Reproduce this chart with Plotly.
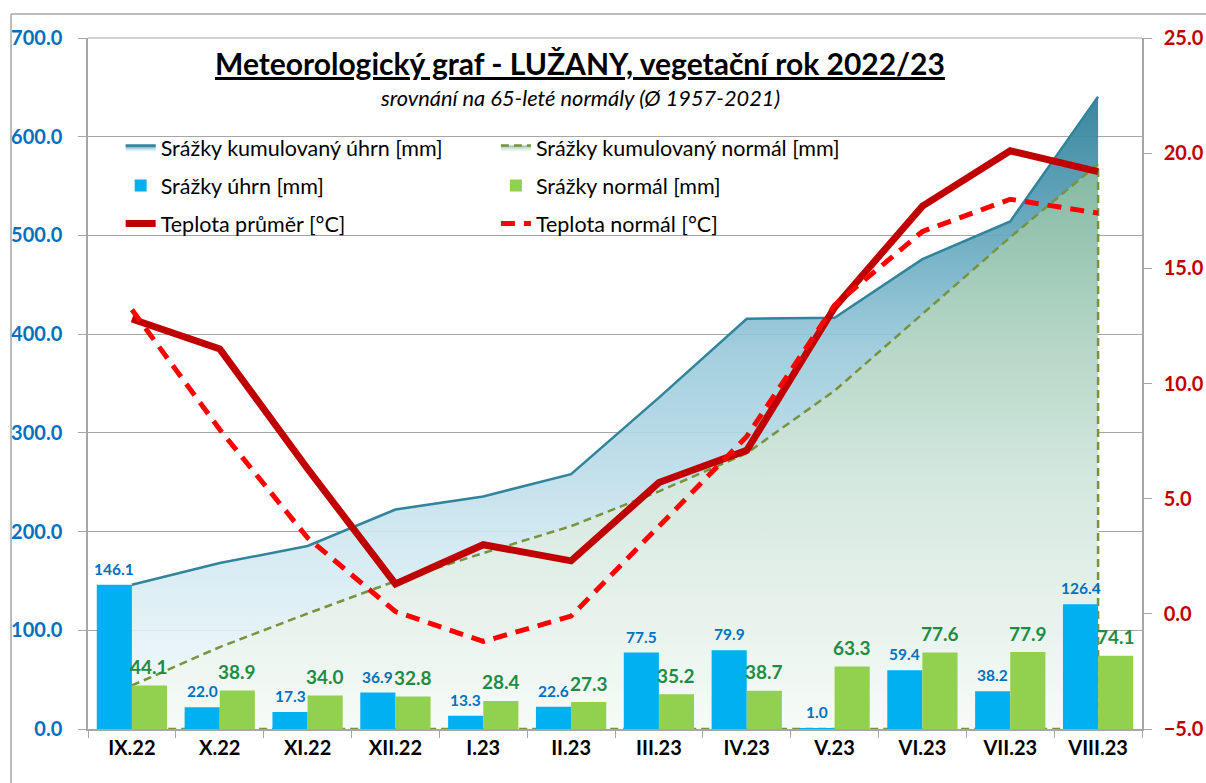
import plotly.graph_objects as go

months = ["IX.22", "X.22", "XI.22", "XII.22", "I.23", "II.23", "III.23",
          "IV.23", "V.23", "VI.23", "VII.23", "VIII.23"]
precip = [146.1, 22.0, 17.3, 36.9, 13.3, 22.6, 77.5, 79.9, 1.0, 59.4, 38.2, 126.4]
precip_norm = [44.1, 38.9, 34.0, 32.8, 28.4, 27.3, 35.2, 38.7, 63.3, 77.6, 77.9, 74.1]
precip_cum = [146.1, 168.1, 185.4, 222.3, 235.6, 258.2, 335.7, 415.6, 416.6, 476.0, 514.2, 640.6]
precip_cum_norm = [44.1, 83.0, 117.0, 149.8, 178.2, 205.5, 240.7, 279.4, 342.7, 420.3, 498.2, 572.3]
temp = [12.8, 11.5, 6.3, 1.3, 3.0, 2.3, 5.7, 7.1, 13.3, 17.7, 20.1, 19.2]
temp_norm = [13.2, 8.0, 3.3, 0.1, -1.2, -0.1, 3.8, 7.7, 13.4, 16.6, 18.0, 17.4]

FONT = "Lato"
GRID = "#A6A6A6"

fig = go.Figure()

# cumulative precipitation area
fig.add_trace(go.Scatter(
    x=months, y=precip_cum, name="Srážky kumulovaný úhrn [mm]",
    mode="lines", fill="tozeroy",
    line=dict(color="#31849B", width=2.5),
    fillgradient=dict(type="vertical", start=0, stop=640.6,
                      colorscale=[[0, "rgba(246,251,253,0.9)"], [0.3, "rgba(207,231,240,0.9)"],
                                  [0.6, "rgba(152,201,218,0.9)"], [0.8, "rgba(93,163,186,0.92)"],
                                  [1, "rgba(47,128,153,0.95)"]]),
    legend="legend", legendgroup="a", yaxis="y",
))
# cumulative normal area (closed polygon with dashed outline)
fig.add_trace(go.Scatter(
    x=months + [months[-1], months[0]], y=precip_cum_norm + [0, 0],
    name="Srážky kumulovaný normál [mm]",
    mode="lines", fill="toself",
    line=dict(color="#77933C", width=2.5, dash="8px,5px"),
    fillgradient=dict(type="vertical", start=0, stop=572.3,
                      colorscale=[[0, "rgba(247,251,247,0.9)"], [0.45, "rgba(213,232,220,0.9)"],
                                  [0.75, "rgba(175,210,191,0.92)"], [1, "rgba(133,186,161,0.95)"]]),
    legend="legend2", legendgroup="b", yaxis="y",
))
# monthly bars (own overlay axis so they sit above the area fills)
fig.add_trace(go.Bar(
    x=months, y=precip, name="Srážky úhrn [mm]",
    marker=dict(color="#00B0F0", line=dict(width=0)),
    legend="legend", legendgroup="c", yaxis="y2",
))
fig.add_trace(go.Bar(
    x=months, y=precip_norm, name="Srážky normál [mm]",
    marker=dict(color="#92D050", line=dict(width=0)),
    legend="legend2", legendgroup="d", yaxis="y2",
))
# temperature lines
fig.add_trace(go.Scatter(
    x=months, y=temp, name="Teplota průměr [°C]", mode="lines",
    line=dict(color="#C00000", width=7),
    legend="legend", legendgroup="e", yaxis="y3",
))
fig.add_trace(go.Scatter(
    x=months, y=temp_norm, name="Teplota normál [°C]", mode="lines",
    line=dict(color="#FF0000", width=5, dash="14px,9px"),
    legend="legend2", legendgroup="f", yaxis="y3",
))

# bar data labels
labels = []
for m, v in zip(months, precip):
    labels.append(dict(x=m, y=v, xref="x", yref="y2", text=f"{v:.1f}",
                       showarrow=False, xanchor="center", yanchor="middle",
                       xshift=-17.5, yshift=16,
                       font=dict(family=FONT, size=15.5, color="#0070C0", weight="bold")))
for m, v in zip(months, precip_norm):
    labels.append(dict(x=m, y=v, xref="x", yref="y2", text=f"{v:.1f}",
                       showarrow=False, xanchor="center", yanchor="middle",
                       xshift=17.5, yshift=19,
                       font=dict(family=FONT, size=19, color="#1E8C45", weight="bold")))

legend_common = dict(
    font=dict(family=FONT, size=21.5, color="#000000"),
    bgcolor="rgba(0,0,0,0)", tracegroupgap=7,
    yanchor="top", xanchor="left", traceorder="grouped",
)

fig.update_layout(
    width=1206, height=783,
    margin=dict(l=88, r=64, t=38, b=54, autoexpand=False),
    paper_bgcolor="white", plot_bgcolor="white",
    font=dict(family=FONT),
    barmode="group", bargap=0.2, bargroupgap=0,
    showlegend=True,
    legend=dict(x=0.031, y=0.871, **legend_common),
    legend2=dict(x=0.387, y=0.871, **legend_common),
    xaxis=dict(
        type="category", categoryorder="array", categoryarray=months,
        tickson="boundaries", ticks="outside", ticklen=7, tickcolor=GRID,
        showline=True, linecolor=GRID, linewidth=1.5, showgrid=False,
        tickfont=dict(family=FONT, size=20, color="#000000", weight="bold"),
        automargin=False,
    ),
    yaxis=dict(
        range=[0, 700], dtick=100, tickformat=".1f",
        showline=True, linecolor=GRID, linewidth=1.5,
        ticks="outside", ticklen=8, tickcolor=GRID,
        showgrid=True, gridcolor=GRID, gridwidth=1, zeroline=False,
        tickfont=dict(family=FONT, size=20, color="#0070C0", weight="bold"),
        ticklabelstandoff=12, automargin=False,
    ),
    yaxis2=dict(
        range=[0, 700], overlaying="y", visible=False, showgrid=False,
        zeroline=False, automargin=False,
    ),
    yaxis3=dict(
        range=[-5, 25], dtick=5, tickformat=".1f", overlaying="y", side="right",
        showline=True, linecolor=GRID, linewidth=1.5,
        ticks="outside", ticklen=8, tickcolor=GRID,
        showgrid=False, zeroline=False,
        tickfont=dict(family=FONT, size=20, color="#C00000", weight="bold"),
        ticklabelstandoff=8, automargin=False,
    ),
    annotations=[
        dict(text="<b><u>Meteorologický graf - LUŽANY, vegetační rok 2022/23</u></b>",
             xref="paper", yref="paper", x=0.4668, y=0.9638,
             xanchor="center", yanchor="middle", showarrow=False,
             font=dict(family=FONT, size=30, color="#000000")),
        dict(text="<i>srovnání na 65-leté normály (Ø 1957-2021)</i>",
             xref="paper", yref="paper", x=0.4668, y=0.9146,
             xanchor="center", yanchor="middle", showarrow=False,
             font=dict(family=FONT, size=21.8, color="#000000")),
    ] + labels,
    shapes=[
        dict(type="line", xref="paper", yref="paper", x0=0, x1=1, y0=1, y1=1,
             line=dict(color=GRID, width=1), layer="below"),
        dict(type="line", xref="paper", yref="paper",
             x0=(11 - 88) / 1054, x1=(1210 - 88) / 1054,
             y0=(729 - 14) / 691, y1=(729 - 14) / 691,
             line=dict(color=GRID, width=1.5)),
        dict(type="line", xref="paper", yref="paper",
             x0=(11 - 88) / 1054, x1=(11 - 88) / 1054,
             y0=(729 - 14) / 691, y1=(729 - 790) / 691,
             line=dict(color=GRID, width=1.5)),
    ],
)

fig.write_html(
    "out.html",
    config={"responsive": False, "displayModeBar": False},
    post_script="document.body.style.margin='0';document.body.style.overflow='hidden';",
)
